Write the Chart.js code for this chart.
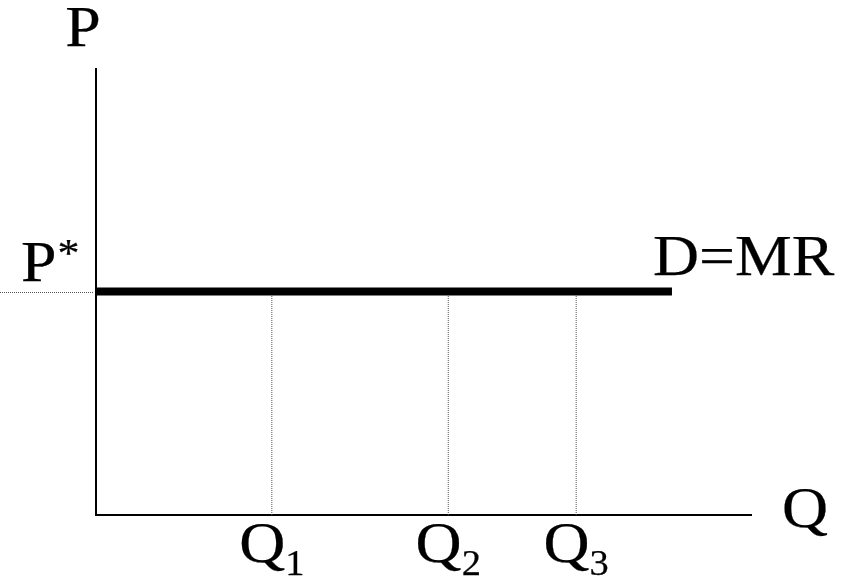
<!DOCTYPE html>
<html>
<head>
<meta charset="utf-8">
<style>
  html, body { margin: 0; padding: 0; background: #fff; }
  #wrap { width: 845px; height: 584px; position: relative; }
</style>
<script src="https://cdn.jsdelivr.net/npm/chart.js@4/dist/chart.umd.min.js"></script>
</head>
<body>
<div id="wrap"><canvas id="chart"></canvas></div>
<script>
// Perfectly competitive firm: flat demand curve D = MR at the market price P*
const axisNames = { price: 'P', quantity: 'Q' };
const priceLabel = 'P';
const priceMark = '*';
const demandLabel = 'D=MR';
const quantityBase = 'Q';
const quantitySubs = ['1', '2', '3'];
const quantities = [26.8, 53.7, 73.2];   // Q1, Q2, Q3
const marketPrice = 50;                   // P*
const demandQ = [0, 87.8];                // extent of the demand line

const SERIF = '"Liberation Serif", "Times New Roman", serif';
const BIG = 58;
const SUB = 35;
const SX = 1.1;   // slightly wide lettering

function label(ctx, text, x, y, size, align) {
  ctx.save();
  ctx.font = `${size}px ${SERIF}`;
  ctx.textAlign = align || 'left';
  ctx.textBaseline = 'alphabetic';
  ctx.translate(x, y);
  ctx.scale(SX, 1);
  ctx.fillStyle = '#000';
  ctx.strokeStyle = '#000';
  ctx.lineWidth = 0.25;
  ctx.fillText(text, 0, 0);
  ctx.strokeText(text, 0, 0);
  ctx.restore();
}

function textWidth(ctx, text, size) {
  ctx.save();
  ctx.font = `${size}px ${SERIF}`;
  const w = ctx.measureText(text).width * SX;
  ctx.restore();
  return w;
}

const datasets = [
  {
    label: demandLabel,
    data: demandQ.map(q => ({ x: q, y: marketPrice })),
    borderColor: '#000',
    borderWidth: 8,
    borderCapStyle: 'butt',
    pointRadius: 0,
    showLine: true
  },
  ...quantities.map((q, i) => ({
    label: quantityBase + quantitySubs[i],
    data: [{ x: q, y: 0 }, { x: q, y: marketPrice }],
    borderColor: '#555',
    borderWidth: 1,
    borderDash: [1, 1],
    pointRadius: 0,
    showLine: true
  }))
];

const diagramPlugin = {
  id: 'diagram',
  beforeDatasetsDraw(chart) {
    const { ctx, chartArea: a, scales } = chart;
    const yP = scales.y.getPixelForValue(marketPrice);
    ctx.save();
    // axes
    ctx.strokeStyle = '#000';
    ctx.lineWidth = 2;
    ctx.beginPath();
    ctx.moveTo(a.left, a.top);
    ctx.lineTo(a.left, a.bottom);
    ctx.lineTo(a.right, a.bottom);
    ctx.stroke();
    // dotted guide from the price axis to P*
    ctx.strokeStyle = '#555';
    ctx.lineWidth = 1;
    ctx.setLineDash([1, 1]);
    ctx.beginPath();
    ctx.moveTo(0, Math.round(yP) + 0.5);
    ctx.lineTo(a.left - 2, Math.round(yP) + 0.5);
    ctx.stroke();
    ctx.restore();
  },
  afterDraw(chart) {
    const { ctx, chartArea: a, scales } = chart;
    const yP = scales.y.getPixelForValue(marketPrice);

    // axis names
    label(ctx, axisNames.price, a.left - 13, a.top - 22, BIG, 'center');
    label(ctx, axisNames.quantity, a.right + 30, a.bottom + 12, BIG, 'left');

    // P* on the price axis
    label(ctx, priceLabel, 21, yP - 11, BIG, 'left');
    const pw = textWidth(ctx, priceLabel, BIG);
    label(ctx, priceMark, 21 + pw + 1, yP - 26, 40, 'left');

    // demand curve label
    label(ctx, demandLabel, scales.x.getPixelForValue(demandQ[1]) - 19, yP - 17, BIG, 'left');

    // quantity labels with subscripts, centred on their guide lines
    quantities.forEach((q, i) => {
      const x = scales.x.getPixelForValue(q);
      const wq = textWidth(ctx, quantityBase, BIG);
      const ws = textWidth(ctx, quantitySubs[i], SUB);
      const x0 = x - (wq + ws) / 2;
      label(ctx, quantityBase, x0, a.bottom + 47, BIG, 'left');
      label(ctx, quantitySubs[i], x0 + wq, a.bottom + 60, SUB, 'left');
    });
  }
};

new Chart(document.getElementById('chart'), {
  type: 'scatter',
  data: { datasets },
  options: {
    responsive: true,
    maintainAspectRatio: false,
    animation: false,
    layout: { padding: { left: 96, right: 93, top: 68, bottom: 69 } },
    plugins: { legend: { display: false }, tooltip: { enabled: false } },
    scales: {
      x: { type: 'linear', min: 0, max: 100, display: false },
      y: { type: 'linear', min: 0, max: 100, display: false }
    }
  },
  plugins: [diagramPlugin]
});
</script>
</body>
</html>
